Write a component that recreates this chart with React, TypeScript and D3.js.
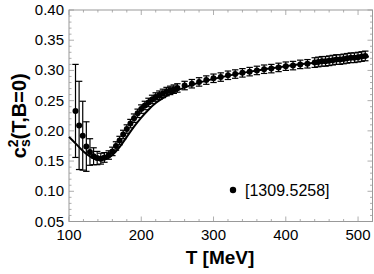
import React, { useEffect, useRef } from 'react';
import * as d3 from 'd3';

// lattice points [1309.5258]
const latT = [109, 114, 119, 124, 129, 134, 139, 144, 149, 155, 160, 165, 170, 175, 180, 185, 190, 195, 200, 205, 210, 215, 220, 225, 230, 235, 240, 245, 250,
  260, 270, 280, 290, 300, 310, 320, 330, 340, 350, 360, 370, 380, 390, 400, 410, 420, 430,
  440, 445, 450, 455, 460, 465, 470, 475, 480, 485, 490, 495, 500, 505, 510];
const latC = [0.233, 0.209, 0.192, 0.174, 0.165, 0.158, 0.155, 0.154, 0.156, 0.160, 0.166, 0.175, 0.184, 0.194, 0.203, 0.212, 0.221, 0.229, 0.236, 0.242, 0.247, 0.252, 0.256, 0.259, 0.262, 0.265, 0.267, 0.269, 0.271,
  0.275, 0.278, 0.281, 0.284, 0.287, 0.289, 0.292, 0.294, 0.296, 0.298, 0.300, 0.302, 0.303, 0.305, 0.307, 0.308, 0.310, 0.311,
  0.313, 0.314, 0.315, 0.315, 0.316, 0.317, 0.318, 0.318, 0.319, 0.320, 0.321, 0.321, 0.322, 0.323, 0.324];
const latErr = [0.077, 0.073, 0.057, 0.041, 0.022, 0.014, 0.011, 0.009, 0.008, 0.007, 0.007, 0.007, 0.007, 0.007, 0.007, 0.007, 0.007, 0.007, 0.007, 0.007, 0.007, 0.007, 0.007, 0.007, 0.007, 0.007, 0.007, 0.007, 0.007,
  0.007, 0.007, 0.007, 0.007, 0.007, 0.007, 0.007, 0.007, 0.007, 0.007, 0.007, 0.007, 0.007, 0.007, 0.007, 0.007, 0.007, 0.007,
  0.008, 0.008, 0.008, 0.008, 0.008, 0.008, 0.008, 0.008, 0.008, 0.008, 0.008, 0.008, 0.008, 0.008, 0.008];

// model curve
const lineT = [100, 110, 120, 130, 140, 150, 160, 170, 180, 190, 200, 210, 220, 230, 240, 250, 270, 300, 350, 400, 450, 500, 515];
const lineC = [0.190, 0.178, 0.166, 0.157, 0.152, 0.153, 0.160, 0.173, 0.190, 0.207, 0.222, 0.235, 0.246, 0.254, 0.261, 0.267, 0.276, 0.286, 0.298, 0.307, 0.314, 0.321, 0.323];

const xMajor = [100, 200, 300, 400, 500];
const yMajor = [0.05, 0.10, 0.15, 0.20, 0.25, 0.30, 0.35, 0.40];

const App = () => {
  const svgRef = useRef(null);

  useEffect(() => {
    const svg = d3.select(svgRef.current);
    svg.selectAll('*').remove();

    const left = 69, right = 372.5, top = 10, bottom = 221.5;
    const x = d3.scaleLinear().domain([100, 520]).range([left, right]);
    const y = d3.scaleLinear().domain([0.05, 0.40]).range([bottom, top]);
    const font = 'Liberation Sans, Arial, sans-serif';
    const gray = '#999';

    // frame
    svg.append('rect')
      .attr('x', left).attr('y', top)
      .attr('width', right - left).attr('height', bottom - top)
      .attr('fill', 'none').attr('stroke', gray).attr('stroke-width', 1);

    // x ticks (bottom and top)
    const xMinor = d3.range(100, 521, 20);
    xMinor.forEach(t => {
      const major = xMajor.includes(t);
      const len = major ? 5 : 2.5;
      svg.append('line').attr('x1', x(t)).attr('x2', x(t)).attr('y1', bottom).attr('y2', bottom - len)
        .attr('stroke', gray).attr('stroke-width', 0.8);
      svg.append('line').attr('x1', x(t)).attr('x2', x(t)).attr('y1', top).attr('y2', top + len)
        .attr('stroke', gray).attr('stroke-width', 0.8);
    });
    xMajor.forEach(t => {
      svg.append('text').attr('x', x(t)).attr('y', bottom + 18)
        .attr('text-anchor', 'middle').attr('font-family', font).attr('font-size', 15)
        .text(t);
    });

    // y ticks (left and right)
    const yMinor = d3.range(0, 36).map(i => 0.05 + i * 0.01);
    yMinor.forEach((v, i) => {
      const major = i % 5 === 0;
      const len = major ? 5 : 2.5;
      svg.append('line').attr('x1', left).attr('x2', left + len).attr('y1', y(v)).attr('y2', y(v))
        .attr('stroke', gray).attr('stroke-width', 0.8);
      svg.append('line').attr('x1', right).attr('x2', right - len).attr('y1', y(v)).attr('y2', y(v))
        .attr('stroke', gray).attr('stroke-width', 0.8);
    });
    yMajor.forEach(v => {
      svg.append('text').attr('x', left - 5).attr('y', y(v) + 5)
        .attr('text-anchor', 'end').attr('font-family', font).attr('font-size', 15)
        .text(v.toFixed(2));
    });

    // curve
    const line = d3.line().x(d => x(d[0])).y(d => y(d[1])).curve(d3.curveMonotoneX);
    svg.append('path')
      .datum(lineT.map((t, i) => [t, lineC[i]]))
      .attr('d', line)
      .attr('fill', 'none').attr('stroke', '#000').attr('stroke-width', 2);

    // error bars + points
    const g = svg.append('g');
    latT.forEach((t, i) => {
      const cx = x(t);
      const y1 = y(latC[i] + latErr[i]);
      const y2 = y(latC[i] - latErr[i]);
      g.append('line').attr('x1', cx).attr('x2', cx).attr('y1', y1).attr('y2', y2)
        .attr('stroke', '#000').attr('stroke-width', 1.2);
      [y1, y2].forEach(yy => {
        g.append('line').attr('x1', cx - 3.2).attr('x2', cx + 3.2).attr('y1', yy).attr('y2', yy)
          .attr('stroke', '#000').attr('stroke-width', 1.2);
      });
      g.append('circle').attr('cx', cx).attr('cy', y(latC[i])).attr('r', 3).attr('fill', '#000');
    });

    // legend
    svg.append('circle').attr('cx', 233).attr('cy', 190).attr('r', 3.2).attr('fill', '#000');
    svg.append('text').attr('x', 245).attr('y', 195.5)
      .attr('font-family', font).attr('font-size', 16)
      .text('[1309.5258]');

    // axis titles
    svg.append('text').attr('x', 220).attr('y', 264)
      .attr('text-anchor', 'middle').attr('font-family', font).attr('font-size', 19).attr('font-weight', 'bold')
      .text('T [MeV]');

    const yt = svg.append('text')
      .attr('transform', `translate(26,${(top + bottom) / 2}) rotate(-90)`)
      .attr('text-anchor', 'middle').attr('font-family', font).attr('font-size', 20).attr('font-weight', 'bold');
    yt.append('tspan').text('c');
    yt.append('tspan').attr('font-size', 14).attr('dy', 4).text('s');
    yt.append('tspan').attr('font-size', 14).attr('dx', -8).attr('dy', -12).text('2');
    yt.append('tspan').attr('dy', 8).text('(T,B=0)');
  }, []);

  return (
    <svg ref={svgRef} width={374} height={274} style={{ position: 'absolute', left: 0, top: 0, background: '#fff' }}></svg>
  );
};

export default App;
